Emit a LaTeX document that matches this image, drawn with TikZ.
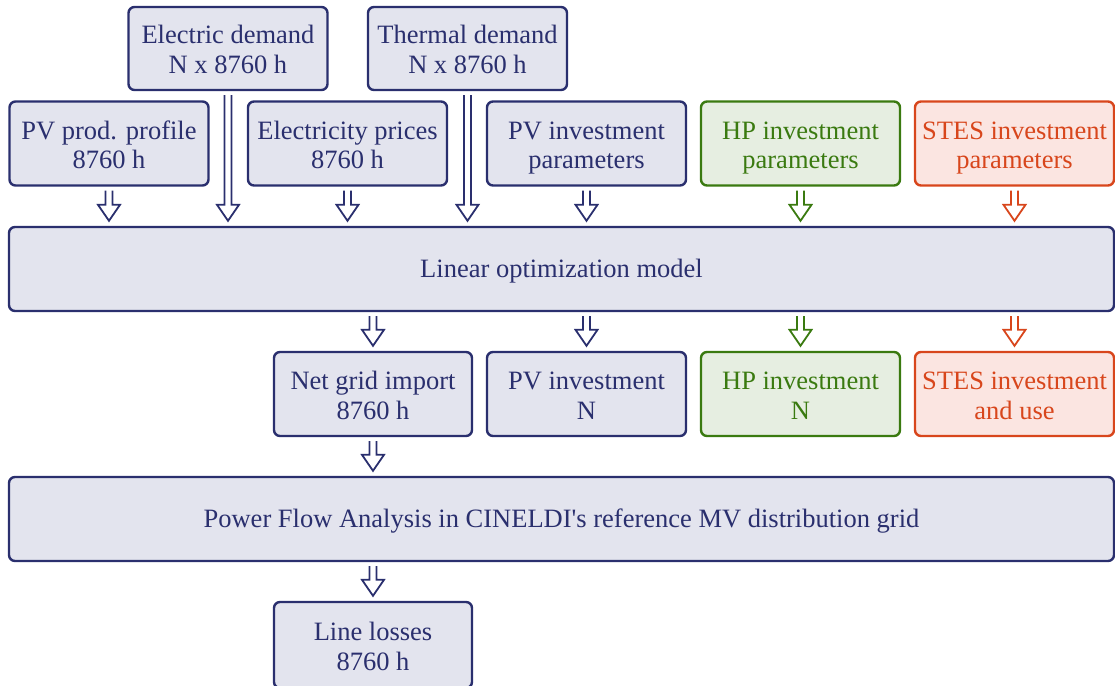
\documentclass[tikz,border=0pt]{standalone}
\usepackage{fontspec}
\setmainfont{Liberation Serif}
\usetikzlibrary{calc}
\definecolor{navy}{HTML}{2A2F6E}
\definecolor{navyfill}{HTML}{E3E4EE}
\definecolor{grn}{HTML}{3A7A10}
\definecolor{grnfill}{HTML}{E6EEE1}
\definecolor{org}{HTML}{D8461C}
\definecolor{orgfill}{HTML}{FBE5E1}
\newcommand\tA{\rule{0pt}{26.5pt}}
\newcommand\tB{\rule[-6pt]{0pt}{6pt}}
\newcommand\on{\rule[-6pt]{0pt}{28pt}}
\tikzset{
  box/.style={draw=navy, fill=navyfill, text=navy, line width=2.4pt, rounded corners=6pt,
    align=center, inner sep=0pt, font=\fontsize{26.5}{29.5}\selectfont},
  gbox/.style={box, draw=grn, fill=grnfill, text=grn},
  obox/.style={box, draw=org, fill=orgfill, text=org},
  dbl/.style={draw=#1, line width=1.8pt, line join=miter,
    to path={let \p1=(\tikztostart), \p2=(\tikztotarget) in
      (\x1-3.5pt,\y1-4pt) -- (\x1-3.5pt,\y2+21pt) -- (\x1-11pt,\y2+21pt) -- (\x1,\y2+5pt)
      -- (\x1+11pt,\y2+21pt) -- (\x1+3.5pt,\y2+21pt) -- (\x1+3.5pt,\y1-4pt)}},
  dbl/.default=navy
}
\begin{document}
\begin{tikzpicture}[x=1pt,y=-1pt]
\useasboundingbox (0,0) rectangle (1115,685);
% top
\node[box, minimum width=199, minimum height=83] (ed) at (228,48.5) {\tA Electric demand\\N x 8760 h\tB};
\node[box, minimum width=199, minimum height=83] (td) at (467.5,48.5) {\tA Thermal demand\\N x 8760 h\tB};
% row 2
\node[box, minimum width=199, minimum height=84] (pvp) at (109,143.5) {\tA PV prod. profile\\8760 h\tB};
\node[box, minimum width=199, minimum height=84] (ep) at (347.5,143.5) {\tA Electricity prices\\8760 h\tB};
\node[box, minimum width=199, minimum height=84] (pvi) at (586.5,143.5) {\tA PV investment\\parameters\tB};
\node[gbox, minimum width=199, minimum height=84] (hpi) at (800.5,143.5) {\tA HP investment\\parameters\tB};
\node[obox, minimum width=199, minimum height=84] (sti) at (1014.5,143.5) {\tA STES investment\\parameters\tB};
% linear model
\node[box, minimum width=1105, minimum height=84] (lin) at (561.5,269) {\on Linear optimization model};
% row 3
\node[box, minimum width=198, minimum height=84] (ngi) at (373,394) {\tA Net grid import\\8760 h\tB};
\node[box, minimum width=199, minimum height=84] (pvo) at (586.5,394) {\tA PV investment\\N\tB};
\node[gbox, minimum width=199, minimum height=84] (hpo) at (800.5,394) {\tA HP investment\\N\tB};
\node[obox, minimum width=199, minimum height=84] (sto) at (1014.5,394) {\tA STES investment\\and use\tB};
% power flow
\node[box, minimum width=1105, minimum height=84] (pf) at (561.5,519) {\on Power Flow Analysis in CINELDI\textquotesingle s reference MV distribution grid};
% line losses
\node[box, minimum width=198, minimum height=86] (ll) at (373,645) {\tA Line losses\\8760 h\tB};
% arrows
\draw[dbl] (pvp.south) to (pvp.south |- lin.north);
\draw[dbl] (ed.south) to (ed.south |- lin.north);
\draw[dbl] (ep.south) to (ep.south |- lin.north);
\draw[dbl] (td.south) to (td.south |- lin.north);
\draw[dbl] (pvi.south) to (pvi.south |- lin.north);
\draw[dbl=grn] (hpi.south) to (hpi.south |- lin.north);
\draw[dbl=org] (sti.south) to (sti.south |- lin.north);
\draw[dbl] (ngi.north |- lin.south) to (ngi.north);
\draw[dbl] (pvo.north |- lin.south) to (pvo.north);
\draw[dbl=grn] (hpo.north |- lin.south) to (hpo.north);
\draw[dbl=org] (sto.north |- lin.south) to (sto.north);
\draw[dbl] (ngi.south) to (ngi.south |- pf.north);
\draw[dbl] (ll.north |- pf.south) to (ll.north);
\end{tikzpicture}
\end{document}
